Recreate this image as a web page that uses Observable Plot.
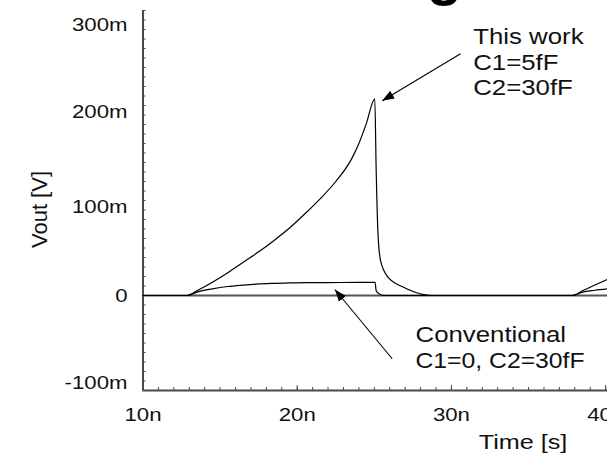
<!DOCTYPE html>
<html><head><meta charset="utf-8">
<script src="https://cdn.jsdelivr.net/npm/d3@7"></script>
<script src="https://cdn.jsdelivr.net/npm/@observablehq/plot@0.6"></script>
<style>body{margin:0;background:#fff;} svg{display:block}</style>
</head><body>
<script>
// "This work" (C1=5fF, C2=30fF): time in ns, Vout in mV
const thisWorkTime = [10, 12.87, 13.5, 14.5, 15.5, 16.5, 17.5, 18.5, 19.5, 20.5, 21.5, 22.5, 23.5, 24.0, 24.5, 25.03, 25.12, 25.23, 25.4, 25.9, 26.9, 28.2, 28.8, 37.83, 38.5, 39.3, 40.12];
const thisWorkVout = [0, 0, 5, 14, 24, 35, 46, 58, 71, 86, 102, 120, 143, 160, 182, 207, 132, 68, 37, 19, 8.7, 1, 0, 0, 5, 11, 17];
// "Conventional" (C1=0, C2=30fF)
const convTime = [10, 12.87, 13.5, 14.5, 15.5, 16.5, 17.5, 18.5, 19.5, 20.5, 22, 24, 25.05, 25.12, 25.3, 25.6, 37.83, 38.5, 39.3, 40.12];
const convVout = [0, 0, 3.5, 7, 9.5, 11, 12.2, 12.8, 13.2, 13.5, 13.6, 13.8, 13.8, 5, 2, 0, 0, 3.5, 5.5, 7];

const yTickValues = [-100, 0, 100, 200, 300];
const yTickLabels = ["-100m", "0", "100m", "200m", "300m"];
const xTickValues = [10, 20, 30, 40];
const xTickLabels = ["10n", "20n", "30n", "40n"];

const noteTexts = ["This work\nC1=5fF\nC2=30fF", "Conventional\nC1=0, C2=30fF"];
const noteTime = [31.41, 27.67];
const noteVout = [284.2, -29.8];
const arrowFromTime = [30.59, 26.16];
const arrowFromVout = [254.4, -66.6];
const arrowToTime = [25.51, 22.44];
const arrowToVout = [205, 6.3];

const rows = [
  ...thisWorkTime.map((t, i) => ({t, v: thisWorkVout[i], s: "This work"})),
  ...convTime.map((t, i) => ({t, v: convVout[i], s: "Conventional"}))
];
const notes = noteTexts.map((text, i) => ({text, t: noteTime[i], v: noteVout[i]}));
const arrows = arrowFromTime.map((t, i) => ({x1: t, y1: arrowFromVout[i], x2: arrowToTime[i], y2: arrowToVout[i]}));

function filledArrow(color, context) {
  const m = document.createElementNS("http://www.w3.org/2000/svg", "marker");
  m.setAttribute("viewBox", "-12 -5 12 10");
  m.setAttribute("markerWidth", 12);
  m.setAttribute("markerHeight", 10);
  m.setAttribute("markerUnits", "userSpaceOnUse");
  m.setAttribute("refX", 0);
  m.setAttribute("refY", 0);
  m.setAttribute("orient", "auto");
  const p = document.createElementNS("http://www.w3.org/2000/svg", "path");
  p.setAttribute("d", "M-12,-4.5L0,0L-12,4.5Z");
  p.setAttribute("fill", color);
  p.setAttribute("stroke", "none");
  m.appendChild(p);
  return m;
}

// the source picture's tick labels drift slightly from their ticks
const yLabelShift = [-7, 1, 7, 7, 15];

const axisColor = "#4a4a4a";
const chart = Plot.plot({
  width: 607, height: 454,
  marginLeft: 142.5, marginRight: 0, marginTop: 10, marginBottom: 64,
  x: {domain: [10, 40.12]},
  y: {domain: [-100, 300]},
  style: {fontFamily: "'Liberation Sans', Arial, sans-serif", color: "#111", background: "white"},
  marks: [
    Plot.axisY(d3.range(-100, 301, 10), {tickSize: -3, stroke: axisColor, fill: "none", label: null}),
    ...yTickValues.map((v, i) => Plot.axisY([v], {tickSize: 0, tickPadding: 15.5, tickFormat: () => yTickLabels[i], fontSize: 18.5, dy: yLabelShift[i], label: null, fill: "#111"})),
    Plot.axisX(d3.range(10, 41, 1), {tickSize: -3, stroke: axisColor, fill: "none", label: null}),
    Plot.axisX(xTickValues, {tickSize: -5, stroke: axisColor, fill: "none", label: null}),
    Plot.axisX(xTickValues, {tickSize: 0, tickPadding: 17, tickFormat: d => xTickLabels[xTickValues.indexOf(d)], fontSize: 18.5, label: null, fill: "#111"}),
    Plot.ruleY([0], {stroke: "#555", strokeWidth: 2}),
    Plot.ruleX([10], {stroke: axisColor, strokeWidth: 2}),
    Plot.ruleY([-100], {stroke: axisColor, strokeWidth: 2}),
    Plot.line(rows, {x: "t", y: "v", z: "s", stroke: "#000", strokeWidth: 1.2, curve: "monotone-x"}),
    Plot.link(arrows, {x1: "x1", y1: "y1", x2: "x2", y2: "y2", stroke: "#000", strokeWidth: 1.1, markerEnd: filledArrow}),
    Plot.text(notes, {x: "t", y: "v", text: "text", textAnchor: "start", lineAnchor: "top", lineHeight: 1.2, fontSize: 21.5, fill: "#111"}),
    Plot.text(["Vout [V]"], {frameAnchor: "left", textAnchor: "middle", dx: -103.5, dy: 9, rotate: -90, fontSize: 22, fill: "#111"}),
    Plot.text(["Time [s]"], {frameAnchor: "bottom-right", textAnchor: "middle", dx: -84.5, dy: 58, fontSize: 21, fill: "#111"}),
    Plot.text(["g"], {frameAnchor: "top-left", textAnchor: "middle", dx: 301.5, dy: -17, lineAnchor: "bottom", fontSize: 58, fontWeight: "bold", fill: "#000"})
  ]
});
document.body.append(chart);
// horizontal stretch of the source screenshot's lettering
const stretch = 1.2;
chart.querySelectorAll("text").forEach(t => {
  const tr = (t.getAttribute("transform") || "");
  if (tr.includes("rotate") || t.textContent === "g") return;
  const spans = t.querySelectorAll("tspan");
  const targets = spans.length ? Array.from(spans) : [t];
  targets.forEach(el => {
    const w = el.getComputedTextLength();
    const s = el.textContent.startsWith("C1=0") ? 1.15 : stretch;
    el.setAttribute("textLength", w * s);
    el.setAttribute("lengthAdjust", "spacingAndGlyphs");
  });
});
</script>
</body></html>
